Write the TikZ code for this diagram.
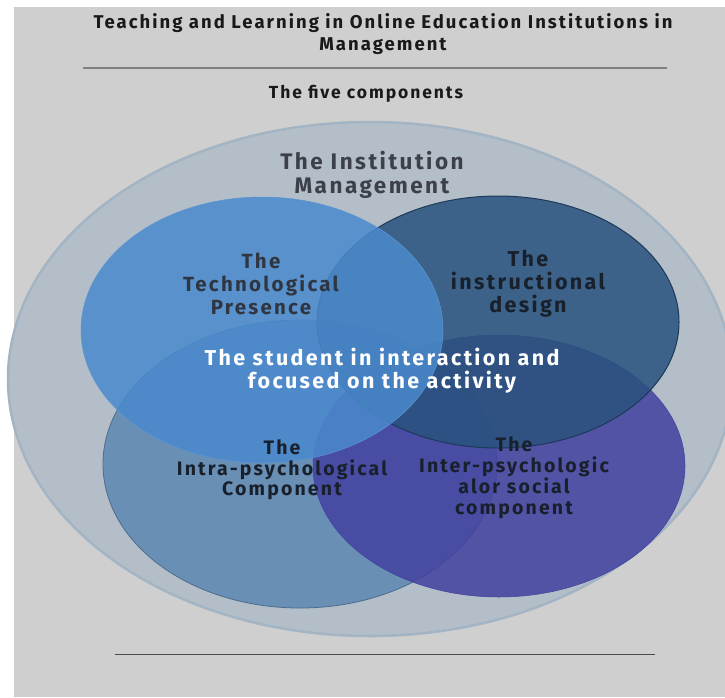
\documentclass[tikz,border=0pt]{standalone}
\usepackage{fontspec}
\setmainfont{Fira Sans}[LetterSpace=11]
\usetikzlibrary{shapes.geometric}

\definecolor{panelgray}{HTML}{CFCFCF}
\definecolor{outerfill}{HTML}{B4BEC8}
\definecolor{outerline}{HTML}{A3B4C4}
\definecolor{techblue}{HTML}{4A8ACD}
\definecolor{instrblue}{HTML}{29527E}
\definecolor{intrablue}{HTML}{5E87B2}
\definecolor{interpurple}{HTML}{4341A0}
\definecolor{inkgray}{HTML}{3C4048}
\definecolor{inknavy}{HTML}{18202C}

\tikzset{
  blob/.style={ellipse, inner sep=0pt, fill opacity=0.85},
  setname/.style 2 args={font=\bfseries\fontsize{#1}{#2}\selectfont},
}

\begin{document}
\begin{tikzpicture}[x=1pt, y=-1pt, align=center]
\useasboundingbox (0,0) rectangle (725,697);
\fill[white] (0,0) rectangle (725,697);
\fill[panelgray] (14,7) rectangle (725,697);

% heading
\path (383,34) node[setname={18.5}{22}, text=black!90] (title)
        {Teaching and Learning in Online Education Institutions in\\Management}
      (366,94) node[setname={17.5}{20}, text=black!90] (five) {The five components};
\draw[black!50, line width=1.2pt] (83,68) coordinate (ta) -- (667,68) coordinate (tb);

% the five sets
\path (370,379) node[blob, draw=outerline, line width=2.5pt, fill=outerfill, fill opacity=1,
        minimum width=724pt, minimum height=514pt] (outer) {}
      (300,464) node[blob, draw=intrablue!80!black, line width=0.8pt, fill=intrablue,
        minimum width=394pt, minimum height=288pt] (intra) {}
      (499,466) node[blob, draw=interpurple, line width=0.5pt, fill=interpurple,
        minimum width=372pt, minimum height=262pt] (inter) {}
      (498,322) node[blob, draw=instrblue!70!black, line width=1pt, fill=instrblue,
        minimum width=362pt, minimum height=252pt] (instr) {}
      (262,330) node[blob, draw=techblue!90!white, line width=0.5pt, fill=techblue,
        minimum width=362pt, minimum height=266pt] (tech) {};

% names of the sets
\path (372,175) node[setname={22.5}{24}, text=inkgray] (tinst) {The Institution\\Management}
      (261,284) node[setname={20.5}{23}, text=inknavy!90!white] (ttech) {The\\Technological\\Presence}
      (528,284) node[setname={21.5}{23}, text=inknavy] (tinstr) {The\\instructional\\design}
      (382,371) node[setname={21.5}{23}, text=white] (tstud) {The student in interaction and\\focused on the activity}
      (282,470) node[setname={19.5}{20.5}, text=inknavy] (tintra) {The\\Intra-psychological\\Component}
      (514,478) node[setname={19.5}{21}, text=inknavy] (tinter) {The\\Inter-psychologic\\alor social\\component};

\draw[black!70, line width=1pt] (115,654) coordinate (ba) -- (655,654) coordinate (bb);
\end{tikzpicture}
\end{document}
